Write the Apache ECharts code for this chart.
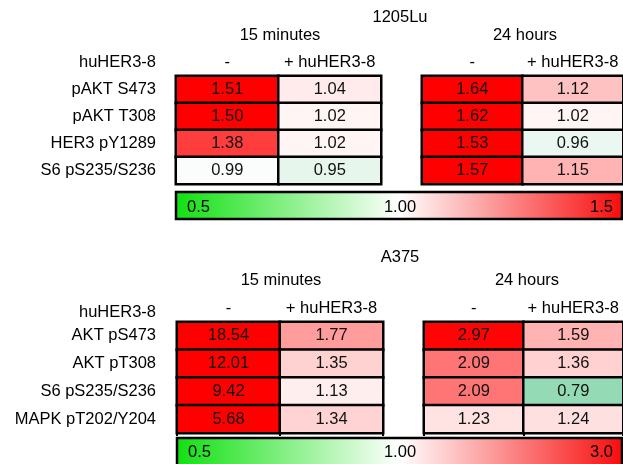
<!DOCTYPE html>
<html>
<head>
<meta charset="utf-8">
<style>
  html, body { margin: 0; padding: 0; background: #fff; }
  #chart { width: 623px; height: 464px; }
</style>
<script src="https://cdn.jsdelivr.net/npm/echarts@6/dist/echarts.min.js"></script>
</head>
<body>
<div id="chart"></div>
<script>
// Phospho-protein fold changes, two cell lines, two time points, +/- huHER3-8
const panelTitles = ['1205Lu', 'A375'];
const timeHeaders = ['15 minutes', '24 hours'];
const treatments = ['-', '+ huHER3-8'];
const treatmentHeader = 'huHER3-8';

const rows1205Lu = ['pAKT S473', 'pAKT T308', 'HER3 pY1289', 'S6 pS235/S236'];
const lu15Ctrl = [1.51, 1.50, 1.38, 0.99];
const lu15Her = [1.04, 1.02, 1.02, 0.95];
const lu24Ctrl = [1.64, 1.62, 1.53, 1.57];
const lu24Her = [1.12, 1.02, 0.96, 1.15];

const rowsA375 = ['AKT pS473', 'AKT pT308', 'S6 pS235/S236', 'MAPK pT202/Y204'];
const a15Ctrl = [18.54, 12.01, 9.42, 5.68];
const a15Her = [1.77, 1.35, 1.13, 1.34];
const a24Ctrl = [2.97, 2.09, 2.09, 1.23];
const a24Her = [1.59, 1.36, 0.79, 1.24];

// colour scale endpoints: low, neutral (1.00), high
const scale1205Lu = [0.5, 1.0, 1.5];
const scaleA375 = [0.5, 1.0, 3.0];
const scaleLabels1205Lu = ['0.5', '1.00', '1.5'];
const scaleLabelsA375 = ['0.5', '1.00', '3.0'];

const FONT = '"Liberation Sans", Arial, sans-serif';
const FS = 16.5;
const LOW = [0, 168, 78], MID = [255, 255, 255], HIGH = [255, 0, 0];

function mix(a, b, t) {
  return 'rgb(' + a.map((v, i) => Math.round(v + (b[i] - v) * t)).join(',') + ')';
}
// evenly spaced colour stops so that white sits exactly at 1.00
function rampColors(sc) {
  const [lo, mid, hi] = sc;
  const step = 0.25, out = [];
  for (let v = lo; v <= hi + 1e-9; v += step) {
    if (v <= mid) out.push(mix(MID, LOW, (mid - v) / (mid - lo)));
    else out.push(mix(MID, HIGH, (v - mid) / (hi - mid)));
  }
  return out;
}

function cells(ctrl, her) {
  const d = [];
  ctrl.forEach((v, i) => d.push([0, i, v]));
  her.forEach((v, i) => d.push([1, i, v]));
  return d;
}

const grids = [
  { left: 176, top: 76, width: 205, height: 108 },
  { left: 422, top: 76, width: 203, height: 108 },
  { left: 177, top: 322, width: 206, height: 111 },
  { left: 424, top: 322, width: 201, height: 111 }
];

const xAxes = [], yAxes = [], series = [];
const blocks = [
  [lu15Ctrl, lu15Her, rows1205Lu],
  [lu24Ctrl, lu24Her, rows1205Lu],
  [a15Ctrl, a15Her, rowsA375],
  [a24Ctrl, a24Her, rowsA375]
];
blocks.forEach((b, gi) => {
  xAxes.push({
    type: 'category', gridIndex: gi, position: 'top', data: treatments,
    axisLine: { show: false }, axisTick: { show: false }, splitLine: { show: false },
    axisLabel: { interval: 0, hideOverlap: false, fontFamily: FONT, fontSize: FS, color: '#000', margin: 5 }
  });
  yAxes.push({
    type: 'category', gridIndex: gi, inverse: true, data: b[2],
    axisLine: { show: false }, axisTick: { show: false }, splitLine: { show: false },
    axisLabel: {
      show: gi % 2 === 0, interval: 0, fontFamily: FONT, fontSize: FS, color: '#000',
      margin: gi === 0 ? 20 : 21, padding: [5, 0, 0, 0]
    }
  });
  series.push({
    type: 'heatmap', xAxisIndex: gi, yAxisIndex: gi,
    data: cells(b[0], b[1]),
    itemStyle: { borderColor: '#000', borderWidth: 2.5 },
    label: {
      show: true, fontFamily: FONT, fontSize: FS, color: '#111',
      formatter: p => p.value[2].toFixed(2)
    },
    emphasis: { disabled: true }
  });
});
// small ticks under the A375 tables
[2, 3].forEach(gi => {
  xAxes.push({
    type: 'category', gridIndex: gi, position: 'bottom', data: treatments,
    axisLine: { show: false }, axisLabel: { show: false }, splitLine: { show: false },
    axisTick: { show: true, interval: 0, length: 3, lineStyle: { color: '#000', width: 2 } }
  });
});

function txt(x, y, text, align) {
  return {
    type: 'text', x: x, y: y, silent: true,
    style: { text: text, fontFamily: FONT, fontSize: FS, fill: '#000',
             align: align || 'center', verticalAlign: 'middle' }
  };
}
function colorBar(x, y, w, h, labels, ty) {
  return [
    {
      type: 'rect', shape: { x: x, y: y, width: w, height: h }, silent: true,
      style: {
        fill: {
          type: 'linear', x: 0, y: 0, x2: 1, y2: 0,
          colorStops: [
            { offset: 0, color: '#10e010' },
            { offset: 0.5, color: '#ffffff' },
            { offset: 1, color: '#f80c0c' }
          ]
        },
        stroke: '#000', lineWidth: 2.5
      }
    },
    txt(x + 11, ty, labels[0], 'left'),
    txt(400, ty, labels[1], 'center'),
    txt(x + w - 9, ty, labels[2], 'right')
  ];
}

const graphics = [
  txt(400, 17, panelTitles[0]),
  txt(280, 35, timeHeaders[0]),
  txt(525, 35, timeHeaders[1]),
  txt(156, 62, treatmentHeader, 'right'),
  txt(400, 257, panelTitles[1]),
  txt(281, 280, timeHeaders[0]),
  txt(527, 280, timeHeaders[1]),
  txt(156, 312, treatmentHeader, 'right')
].concat(colorBar(176, 192, 446, 27, scaleLabels1205Lu, 207))
 .concat(colorBar(177, 438, 445, 32, scaleLabelsA375, 452));

const option = {
  animation: false,
  backgroundColor: '#fff',
  grid: grids,
  xAxis: xAxes,
  yAxis: yAxes,
  visualMap: [
    { show: false, type: 'continuous', seriesIndex: [0, 1], dimension: 2,
      min: scale1205Lu[0], max: scale1205Lu[2], inRange: { color: rampColors(scale1205Lu) } },
    { show: false, type: 'continuous', seriesIndex: [2, 3], dimension: 2,
      min: scaleA375[0], max: scaleA375[2], inRange: { color: rampColors(scaleA375) } }
  ],
  series: series,
  graphic: graphics
};

const chart = echarts.init(document.getElementById('chart'), null, { renderer: 'canvas' });
chart.setOption(option);
</script>
</body>
</html>
